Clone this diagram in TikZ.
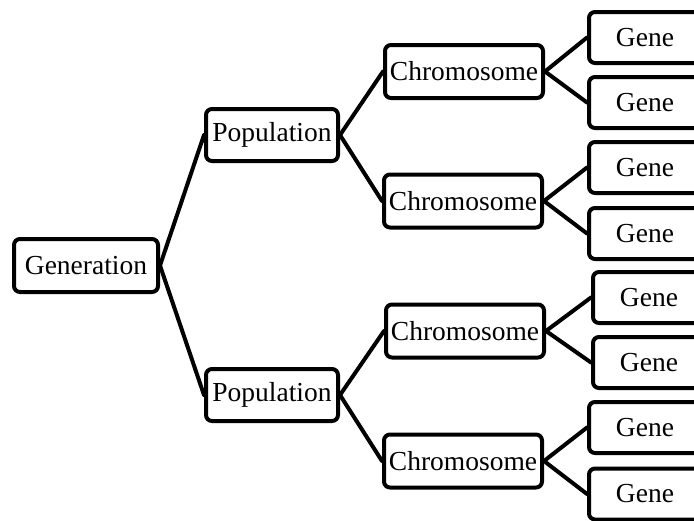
\documentclass[tikz,border=0pt]{standalone}
\usepackage{fontspec}
\setmainfont{Liberation Serif}
\begin{document}
\begin{tikzpicture}[x=1pt,y=-1pt,
  box/.style={draw=black, line width=4pt, rounded corners=6pt, fill=white,
    inner sep=0pt, minimum height=53pt,
    font=\fontsize{27.5}{32}\selectfont},
  genbox/.style={box, minimum width=144pt},
  popbox/.style={box, minimum width=132pt, minimum height=52pt},
  chrbox/.style={box, minimum width=158pt},
  genebox/.style={box, minimum width=112pt, minimum height=51pt},
  link/.style={line width=4pt, line cap=round}
]
\useasboundingbox (0,0) rectangle (694,520);
\clip (0,0) rectangle (694,520);

% root
\node[genbox] (gen) at (86,265.5) {Generation};

% populations
\node[popbox] (p1) at (272,135) {Population};
\node[popbox] (p2) at (272,395) {Population};

% chromosomes
\node[chrbox] (c1) at (464,71.5) {Chromosome};
\node[chrbox] (c2) at (463,201) {Chromosome};
\node[chrbox] (c3) at (465,331) {Chromosome};
\node[chrbox] (c4) at (463,461) {Chromosome};

% genes (right edges run off the page)
\node[genebox] (g1) at (645,37.5) {Gene};
\node[genebox] (g2) at (645,102.5) {Gene};
\node[genebox] (g3) at (645,167.5) {Gene};
\node[genebox] (g4) at (645,233.5) {Gene};
\node[genebox] (g5) at (649,297.5) {Gene};
\node[genebox] (g6) at (649,362.5) {Gene};
\node[genebox] (g7) at (645,427.5) {Gene};
\node[genebox] (g8) at (645,494) {Gene};

% connectors
\draw[link] (gen.east) -- (p1.west);
\draw[link] (gen.east) -- (p2.west);
\draw[link] (p1.east) -- (c1.west);
\draw[link] (p1.east) -- (c2.west);
\draw[link] (p2.east) -- (c3.west);
\draw[link] (p2.east) -- (c4.west);
\draw[link] (c1.east) -- (g1.west);
\draw[link] (c1.east) -- (g2.west);
\draw[link] (c2.east) -- (g3.west);
\draw[link] (c2.east) -- (g4.west);
\draw[link] (c3.east) -- (g5.west);
\draw[link] (c3.east) -- (g6.west);
\draw[link] (c4.east) -- (g7.west);
\draw[link] (c4.east) -- (g8.west);
\end{tikzpicture}
\end{document}
